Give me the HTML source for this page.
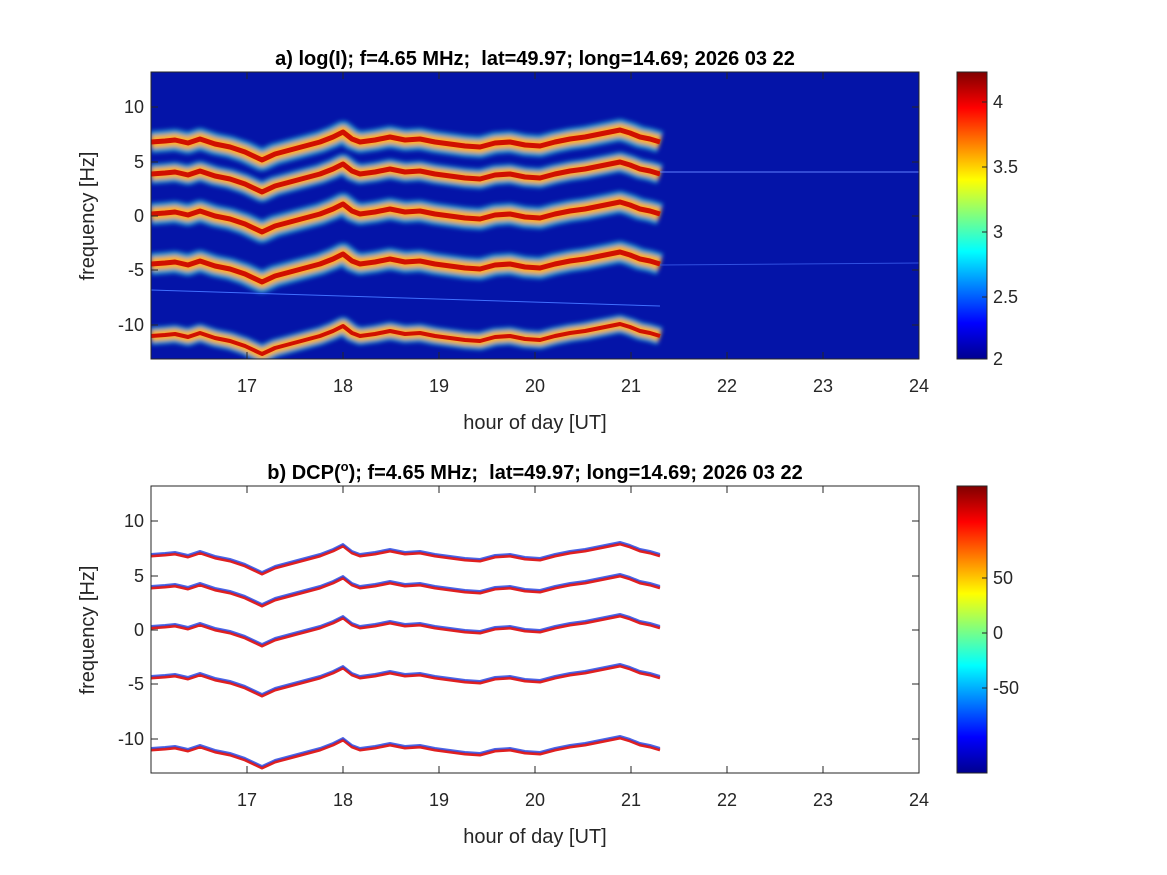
<!DOCTYPE html>
<html><head><style>
body{margin:0;background:#fff;}
svg{display:block;font-family:"Liberation Sans",sans-serif;}
</style></head><body>
<svg width="1167" height="875" viewBox="0 0 1167 875">
<defs>
<linearGradient id="jet" x1="0" y1="1" x2="0" y2="0">
<stop offset="0" stop-color="#00008f"/><stop offset="0.125" stop-color="#0000ff"/>
<stop offset="0.375" stop-color="#00ffff"/><stop offset="0.625" stop-color="#ffff00"/>
<stop offset="0.875" stop-color="#ff0000"/><stop offset="1" stop-color="#800000"/>
</linearGradient>
<path id="w" d="M151,0 L165,-1 L175,-2 L188,1 L200,-3 L215,2 L230,5 L245,10 L262,18 L275,12 L290,8 L305,4 L320,0 L333,-5 L343,-10 L352,-3 L360,0 L375,-2 L390,-5 L405,-2 L420,-3 L435,0 L450,2 L465,4 L480,5 L495,1 L510,0 L525,3 L540,4 L555,0 L570,-3 L585,-5 L600,-8 L610,-10 L620,-12 L630,-9 L640,-5 L650,-3 L660,0"/>
<clipPath id="c1"><rect x="151" y="72" width="768" height="287"/></clipPath>
<clipPath id="c2"><rect x="151" y="486" width="768" height="287"/></clipPath>
<filter id="b"><feGaussianBlur stdDeviation="2"/></filter>
</defs>

<rect x="151" y="72" width="768" height="287" fill="#0414a8"/>
<g clip-path="url(#c1)" fill="none" stroke-linejoin="round">
<g filter="url(#b)">
<use href="#w" y="142" stroke="#30d0e0" stroke-width="22" opacity="0.7"/>
<use href="#w" y="174" stroke="#30d0e0" stroke-width="20" opacity="0.7"/>
<use href="#w" y="214" stroke="#30d0e0" stroke-width="22" opacity="0.7"/>
<use href="#w" y="264" stroke="#30d0e0" stroke-width="22" opacity="0.7"/>
<use href="#w" y="336" stroke="#30d0e0" stroke-width="18" opacity="0.7"/>
<use href="#w" y="142" stroke="#ffb020" stroke-width="13"/>
<use href="#w" y="174" stroke="#ffb020" stroke-width="12"/>
<use href="#w" y="214" stroke="#ffb020" stroke-width="13"/>
<use href="#w" y="264" stroke="#ffb020" stroke-width="13"/>
<use href="#w" y="336" stroke="#ffb020" stroke-width="11"/>
</g>
<use href="#w" y="142" stroke="#d01000" stroke-width="5"/>
<use href="#w" y="174" stroke="#d01000" stroke-width="5"/>
<use href="#w" y="214" stroke="#d01000" stroke-width="5"/>
<use href="#w" y="264" stroke="#d01000" stroke-width="5"/>
<use href="#w" y="336" stroke="#d01000" stroke-width="4"/>
<line x1="660" y1="172" x2="919" y2="172" stroke="#6080ff" stroke-width="1"/>
<line x1="660" y1="265" x2="919" y2="263" stroke="#3050e0" stroke-width="1"/>
<line x1="151" y1="290" x2="660" y2="306" stroke="#4070ff" stroke-width="1"/>
</g>
<rect x="151" y="72" width="768" height="287" fill="none" stroke="#262626"/>

<g clip-path="url(#c2)" fill="none" stroke-linejoin="round">
<use href="#w" y="556" stroke="#e02020" stroke-width="3"/>
<use href="#w" y="588" stroke="#e02020" stroke-width="3"/>
<use href="#w" y="628" stroke="#e02020" stroke-width="3"/>
<use href="#w" y="678" stroke="#e02020" stroke-width="3"/>
<use href="#w" y="750" stroke="#e02020" stroke-width="3"/>
<g transform="translate(0,-2)" stroke="#2040e0" stroke-width="2" opacity="0.8">
<use href="#w" y="556"/><use href="#w" y="588"/><use href="#w" y="628"/><use href="#w" y="678"/><use href="#w" y="750"/>
</g>
</g>
<rect x="151" y="486" width="768" height="287" fill="none" stroke="#262626"/>

<g font-size="18" fill="#262626" text-anchor="middle">
<g stroke="#262626">
<path d="M247,359v-7M343,359v-7M439,359v-7M535,359v-7M631,359v-7M727,359v-7M823,359v-7M247,72v7M343,72v7M439,72v7M535,72v7M631,72v7M727,72v7M823,72v7"/>
<path d="M247,773v-7M343,773v-7M439,773v-7M535,773v-7M631,773v-7M727,773v-7M823,773v-7M247,486v7M343,486v7M439,486v7M535,486v7M631,486v7M727,486v7M823,486v7"/>
<path d="M151,107h7M151,162h7M151,216h7M151,270h7M151,325h7M919,107h-7M919,162h-7M919,216h-7M919,270h-7M919,325h-7"/>
<path d="M151,521h7M151,576h7M151,630h7M151,684h7M151,739h7M919,521h-7M919,576h-7M919,630h-7M919,684h-7M919,739h-7"/>
</g>
<text x="247" y="392">17</text><text x="343" y="392">18</text><text x="439" y="392">19</text><text x="535" y="392">20</text><text x="631" y="392">21</text><text x="727" y="392">22</text><text x="823" y="392">23</text><text x="919" y="392">24</text>
<text x="247" y="806">17</text><text x="343" y="806">18</text><text x="439" y="806">19</text><text x="535" y="806">20</text><text x="631" y="806">21</text><text x="727" y="806">22</text><text x="823" y="806">23</text><text x="919" y="806">24</text>
<text x="535" y="429" font-size="20">hour of day [UT]</text>
<text x="535" y="843" font-size="20">hour of day [UT]</text>
</g>
<g font-size="18" fill="#262626" text-anchor="end">
<text x="144" y="113">10</text><text x="144" y="168">5</text><text x="144" y="222">0</text><text x="144" y="276">-5</text><text x="144" y="331">-10</text>
<text x="144" y="527">10</text><text x="144" y="582">5</text><text x="144" y="636">0</text><text x="144" y="690">-5</text><text x="144" y="745">-10</text>
</g>
<text transform="translate(94,216) rotate(-90)" font-size="20" fill="#262626" text-anchor="middle">frequency [Hz]</text>
<text transform="translate(94,630) rotate(-90)" font-size="20" fill="#262626" text-anchor="middle">frequency [Hz]</text>
<text x="535" y="65" font-size="20" font-weight="bold" text-anchor="middle" fill="#000">a) log(I); f=4.65 MHz;&#160; lat=49.97; long=14.69; 2026 03 22</text>
<text x="535" y="479" font-size="20" font-weight="bold" text-anchor="middle" fill="#000">b) DCP(<tspan font-size="13" dy="-8">o</tspan><tspan dy="8">); f=4.65 MHz;&#160; lat=49.97; long=14.69; 2026 03 22</tspan></text>

<rect x="957" y="72" width="30" height="287" fill="url(#jet)" stroke="#262626"/>
<rect x="957" y="486" width="30" height="287" fill="url(#jet)" stroke="#262626"/>
<g stroke="#262626"><path d="M987,102h-5M987,167h-5M987,232h-5M987,297h-5M987,578h-5M987,633h-5M987,688h-5"/></g>
<g font-size="18" fill="#262626">
<text x="993" y="108">4</text><text x="993" y="173">3.5</text><text x="993" y="238">3</text><text x="993" y="303">2.5</text><text x="993" y="365">2</text>
<text x="993" y="584">50</text><text x="993" y="639">0</text><text x="993" y="694">-50</text>
</g>
</svg>
</body></html>
